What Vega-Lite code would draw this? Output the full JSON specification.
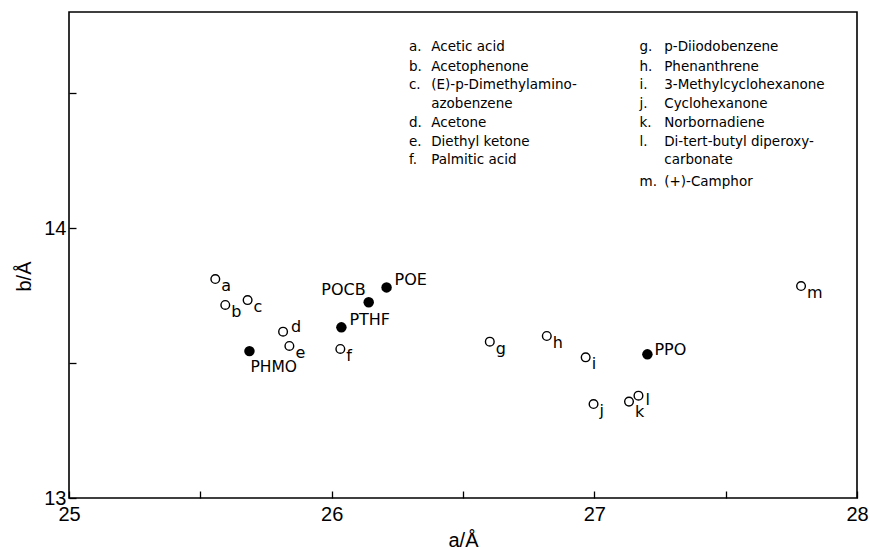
{
  "$schema": "https://vega.github.io/schema/vega-lite/v6.json",
  "width": 788,
  "height": 486,
  "autosize": {"type": "none"},
  "padding": {"left": 69, "top": 12, "right": 13, "bottom": 52},
  "background": "white",
  "config": {
    "view": {"stroke": "black", "strokeWidth": 1.6},
    "text": {"font": "DejaVu Sans", "color": "black"}
  },
  "datasets": {
    "points": [
      {"label": "a", "a": 25.557, "b": 13.811, "kind": "open"},
      {"label": "b", "a": 25.595, "b": 13.715, "kind": "open"},
      {"label": "c", "a": 25.680, "b": 13.733, "kind": "open"},
      {"label": "d", "a": 25.815, "b": 13.616, "kind": "open"},
      {"label": "e", "a": 25.839, "b": 13.563, "kind": "open"},
      {"label": "f", "a": 26.033, "b": 13.552, "kind": "open"},
      {"label": "g", "a": 26.602, "b": 13.579, "kind": "open"},
      {"label": "h", "a": 26.819, "b": 13.600, "kind": "open"},
      {"label": "i", "a": 26.967, "b": 13.521, "kind": "open"},
      {"label": "j", "a": 26.997, "b": 13.348, "kind": "open"},
      {"label": "k", "a": 27.132, "b": 13.357, "kind": "open"},
      {"label": "l", "a": 27.168, "b": 13.379, "kind": "open"},
      {"label": "m", "a": 27.787, "b": 13.785, "kind": "open"},
      {"label": "PHMO", "a": 25.687, "b": 13.544, "kind": "filled"},
      {"label": "PTHF", "a": 26.037, "b": 13.632, "kind": "filled"},
      {"label": "POCB", "a": 26.141, "b": 13.725, "kind": "filled"},
      {"label": "POE", "a": 26.209, "b": 13.780, "kind": "filled"},
      {"label": "PPO", "a": 27.202, "b": 13.532, "kind": "filled"}
    ],
    "compounds": [
      {"col": 1, "key": "a.", "name": "Acetic acid", "b": 14.669},
      {"col": 1, "key": "b.", "name": "Acetophenone", "b": 14.597},
      {"col": 1, "key": "c.", "name": "(E)-p-Dimethylamino-", "b": 14.530},
      {"col": 1, "key": "", "name": "azobenzene", "b": 14.459},
      {"col": 1, "key": "d.", "name": "Acetone", "b": 14.390},
      {"col": 1, "key": "e.", "name": "Diethyl ketone", "b": 14.317},
      {"col": 1, "key": "f.", "name": "Palmitic acid", "b": 14.252},
      {"col": 2, "key": "g.", "name": "p-Diiodobenzene", "b": 14.669},
      {"col": 2, "key": "h.", "name": "Phenanthrene", "b": 14.597},
      {"col": 2, "key": "i.", "name": "3-Methylcyclohexanone", "b": 14.530},
      {"col": 2, "key": "j.", "name": "Cyclohexanone", "b": 14.459},
      {"col": 2, "key": "k.", "name": "Norbornadiene", "b": 14.390},
      {"col": 2, "key": "l.", "name": "Di-tert-butyl diperoxy-", "b": 14.317},
      {"col": 2, "key": "", "name": "carbonate", "b": 14.252},
      {"col": 2, "key": "m.", "name": "(+)-Camphor", "b": 14.171}
    ]
  },
  "encoding": {
    "y": {
      "field": "b",
      "type": "quantitative",
      "scale": {"domain": [13, 14.8], "nice": false, "zero": false},
      "axis": {
        "title": "b/Å",
        "values": [13, 13.5, 14, 14.5],
        "labelExpr": "datum.value % 1 === 0 ? format(datum.value, 'd') : ''",
        "offset": -7,
        "tickSize": 7,
        "tickColor": "black",
        "tickWidth": 1.3,
        "domain": false,
        "grid": false,
        "labelFont": "Liberation Sans",
        "labelFontSize": 20,
        "labelColor": "black",
        "labelPadding": 3,
        "labelFlush": false,
        "labelOverlap": false,
        "titleFont": "Liberation Sans",
        "titleFontSize": 20,
        "titleFontWeight": "normal",
        "titleColor": "black",
        "titleX": -52,
        "titleY": 264,
        "titleAlign": "center",
        "titleBaseline": "middle"
      }
    }
  },
  "layer": [
    {
      "data": {"name": "points"},
      "transform": [{"filter": "datum.kind === 'open'"}],
      "mark": {"type": "point", "shape": "circle", "filled": false, "stroke": "black", "strokeWidth": 1.4, "size": 75, "opacity": 1},
      "encoding": {
        "x": {
          "field": "a",
          "type": "quantitative",
          "title": "a/Å",
          "scale": {"domain": [25, 28], "nice": false, "zero": false},
          "axis": {
            "title": "a/Å",
            "values": [25, 25.5, 26, 26.5, 27, 27.5, 28],
            "labelExpr": "datum.value % 1 === 0 ? format(datum.value, 'd') : ''",
            "offset": -7,
            "tickSize": 7,
            "tickColor": "black",
            "tickWidth": 1.3,
            "domain": false,
            "grid": false,
            "labelFont": "Liberation Sans",
            "labelFontSize": 20,
            "labelColor": "black",
            "labelPadding": 6,
            "labelFlush": false,
            "labelOverlap": false,
            "titleFont": "Liberation Sans",
            "titleFontSize": 20,
            "titleFontWeight": "normal",
            "titleColor": "black",
            "titleY": 49,
            "titleBaseline": "middle"
          }
        }
      }
    },
    {
      "data": {"name": "points"},
      "transform": [{"filter": "datum.kind === 'filled'"}],
      "mark": {"type": "point", "shape": "circle", "filled": true, "fill": "black", "size": 110, "opacity": 1},
      "encoding": {"x": {"field": "a", "type": "quantitative", "title": "a/Å"}}
    },
    {
      "data": {"name": "points"},
      "transform": [{"filter": {"field": "label", "oneOf": ["a", "b", "c", "e", "f", "g", "h", "i", "j", "m"]}}],
      "mark": {"type": "text", "align": "left", "baseline": "middle", "dx": 6, "dy": 7, "fontSize": 16},
      "encoding": {"x": {"field": "a", "type": "quantitative", "title": "a/Å"}, "text": {"field": "label"}}
    },
    {
      "data": {"name": "points"},
      "transform": [{"filter": {"field": "label", "oneOf": ["k"]}}],
      "mark": {"type": "text", "align": "left", "baseline": "middle", "dx": 6, "dy": 10, "fontSize": 16},
      "encoding": {"x": {"field": "a", "type": "quantitative", "title": "a/Å"}, "text": {"field": "label"}}
    },
    {
      "data": {"name": "points"},
      "transform": [{"filter": {"field": "label", "oneOf": ["l"]}}],
      "mark": {"type": "text", "align": "left", "baseline": "middle", "dx": 7, "dy": 4, "fontSize": 16},
      "encoding": {"x": {"field": "a", "type": "quantitative", "title": "a/Å"}, "text": {"field": "label"}}
    },
    {
      "data": {"name": "points"},
      "transform": [{"filter": {"field": "label", "oneOf": ["d"]}}],
      "mark": {"type": "text", "align": "left", "baseline": "middle", "dx": 8, "dy": -5, "fontSize": 16},
      "encoding": {"x": {"field": "a", "type": "quantitative", "title": "a/Å"}, "text": {"field": "label"}}
    },
    {
      "data": {"name": "points"},
      "transform": [{"filter": {"field": "label", "oneOf": ["POE", "PTHF"]}}],
      "mark": {"type": "text", "align": "left", "baseline": "middle", "dx": 8, "dy": -7, "fontSize": 16},
      "encoding": {"x": {"field": "a", "type": "quantitative", "title": "a/Å"}, "text": {"field": "label"}}
    },
    {
      "data": {"name": "points"},
      "transform": [{"filter": {"field": "label", "oneOf": ["PPO"]}}],
      "mark": {"type": "text", "align": "left", "baseline": "middle", "dx": 7, "dy": -4, "fontSize": 16},
      "encoding": {"x": {"field": "a", "type": "quantitative", "title": "a/Å"}, "text": {"field": "label"}}
    },
    {
      "data": {"name": "points"},
      "transform": [{"filter": {"field": "label", "oneOf": ["PHMO"]}}],
      "mark": {"type": "text", "align": "left", "baseline": "middle", "dx": 1, "dy": 16, "fontSize": 15.5},
      "encoding": {"x": {"field": "a", "type": "quantitative", "title": "a/Å"}, "text": {"field": "label"}}
    },
    {
      "data": {"name": "points"},
      "transform": [{"filter": {"field": "label", "oneOf": ["POCB"]}}],
      "mark": {"type": "text", "align": "right", "baseline": "middle", "dx": -3, "dy": -12, "fontSize": 16},
      "encoding": {"x": {"field": "a", "type": "quantitative", "title": "a/Å"}, "text": {"field": "label"}}
    },
    {
      "data": {"name": "compounds"},
      "transform": [{"filter": {"field": "col", "equal": 1}}],
      "mark": {"type": "text", "align": "left", "baseline": "middle", "fontSize": 13.5},
      "encoding": {"x": {"datum": 26.294, "type": "quantitative", "title": "a/Å"}, "text": {"field": "key", "type": "nominal"}}
    },
    {
      "data": {"name": "compounds"},
      "transform": [{"filter": {"field": "col", "equal": 1}}],
      "mark": {"type": "text", "align": "left", "baseline": "middle", "fontSize": 13.5},
      "encoding": {"x": {"datum": 26.379, "type": "quantitative", "title": "a/Å"}, "text": {"field": "name", "type": "nominal"}}
    },
    {
      "data": {"name": "compounds"},
      "transform": [{"filter": {"field": "col", "equal": 2}}],
      "mark": {"type": "text", "align": "left", "baseline": "middle", "fontSize": 13.5},
      "encoding": {"x": {"datum": 27.172, "type": "quantitative", "title": "a/Å"}, "text": {"field": "key", "type": "nominal"}}
    },
    {
      "data": {"name": "compounds"},
      "transform": [{"filter": {"field": "col", "equal": 2}}],
      "mark": {"type": "text", "align": "left", "baseline": "middle", "fontSize": 13.5},
      "encoding": {"x": {"datum": 27.266, "type": "quantitative", "title": "a/Å"}, "text": {"field": "name", "type": "nominal"}}
    }
  ]
}
